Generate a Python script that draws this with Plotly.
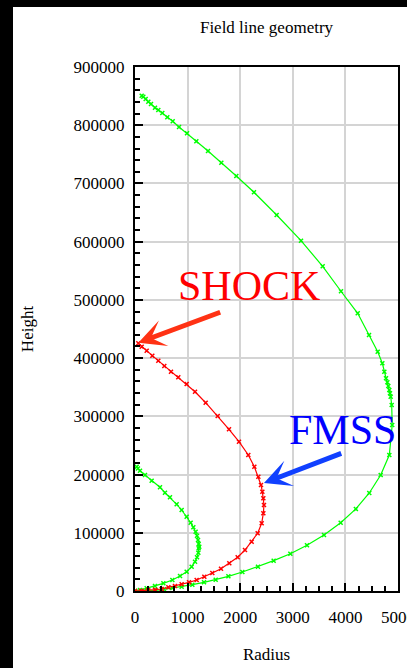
import plotly.graph_objects as go

# ---- data ----
outer_r = [127, 158, 203, 253, 304, 380, 443, 519, 614, 717, 837, 989, 1166, 1388, 1641, 1926, 2262,
           2693, 3156, 3568, 3916, 4234, 4449, 4614, 4702, 4740, 4772, 4798, 4816, 4835, 4848, 4861,
           4880, 4890, 4835, 4671, 4454, 4199, 3910, 3593, 3270, 2953, 2636, 2338, 2041, 1775, 1534,
           1312, 1090, 887, 710, 551, 393, 250, 130, 0]
outer_h = [850700, 849000, 845000, 840400, 836500, 830100, 826200, 821000, 813600, 806800, 797000,
           786200, 772400, 755700, 735700, 712800, 684800, 645800, 601700, 557700, 514800, 477000,
           439700, 411000, 391100, 376700, 365300, 358400, 352100, 345200, 339500, 333700, 319500,
           285000, 233600, 199200, 168300, 141000, 117300, 96200, 78500, 64100, 52100, 41800, 32600,
           25200, 19400, 14900, 10800, 7400, 5200, 2900, 1200, 500, 200, 0]

inner_r = [32, 55, 95, 190, 317, 475, 570, 665, 792, 887, 982, 1058, 1109, 1153, 1179, 1198, 1210,
           1222, 1210, 1204, 1179, 1141, 1077, 982, 856, 710, 539, 380, 222, 95, 0]
inner_h = [213500, 210500, 206600, 199200, 189500, 178100, 168800, 160900, 148900, 139100, 127600,
           117300, 109400, 101900, 95000, 87600, 80700, 76100, 73300, 65800, 57900, 50300, 41800,
           33200, 25800, 18900, 13200, 8600, 4600, 1500, 0]

shock_r = [63, 127, 222, 329, 443, 557, 684, 823, 982, 1141, 1344, 1572, 1787, 1977, 2154, 2269,
           2345, 2395, 2421, 2440, 2452, 2440, 2408, 2332, 2218, 2091, 1952, 1793, 1635, 1470, 1318,
           1172, 1027, 887, 760, 634, 507, 380, 250, 120, 0]
shock_h = [425400, 419600, 412800, 404200, 395600, 386500, 376700, 367000, 355500, 342300, 323400,
           300600, 277700, 256400, 233600, 213500, 196300, 182100, 170600, 159200, 147700, 133400,
           116300, 99100, 84700, 70400, 57900, 47600, 38300, 30900, 24600, 18900, 14900, 11500,
           8600, 6400, 3400, 2200, 1200, 500, 0]

# arrows: (tail, head) in data units
shock_arrow = dict(tail=(1648, 479700), head=(63, 426500))
fmss_arrow = dict(tail=(3949, 237500), head=(2452, 185500))
labels = dict(SHOCK=(2167, 524000), FMSS=(3945, 276500))

GREEN = "#00ff00"
RED = "#ff0000"
FONT = "Liberation Serif"

fig = go.Figure()


def add_curve(xs, ys, color):
    fig.add_trace(go.Scatter(
        x=xs, y=ys, mode="lines+markers",
        line=dict(color=color, width=1.2),
        marker=dict(symbol="x-thin", size=4, color=color, line=dict(color=color, width=1.5)),
        showlegend=False, hoverinfo="skip"))


add_curve(outer_r, outer_h, GREEN)
add_curve(inner_r, inner_h, GREEN)
add_curve(shock_r, shock_h, RED)

W, H = 407, 668
L, R, T, B = 135, 9, 67, 77
pw, ph = W - L - R, H - T - B

# white page region (left and top black strips in reference)
x0p = (13 - L) / pw
y1p = (H - B - 7) / ph

fig.add_shape(type="rect", xref="paper", yref="paper", x0=x0p, x1=1.2, y0=-0.3, y1=y1p,
              fillcolor="white", line=dict(width=0), layer="below")

ann = []
for (tx, ty), (hx, hy), col in [(shock_arrow["tail"], shock_arrow["head"], "#ff3214"),
                                (fmss_arrow["tail"], fmss_arrow["head"], "#1040ff")]:
    ann.append(dict(x=hx, y=hy, ax=tx, ay=ty, xref="x", yref="y", axref="x", ayref="y",
                    text="", showarrow=True, arrowhead=3, arrowwidth=5, arrowsize=0.9,
                    arrowcolor=col, standoff=0))
ann.append(dict(x=labels["SHOCK"][0], y=labels["SHOCK"][1], xref="x", yref="y", text="SHOCK",
                showarrow=False, font=dict(family=FONT, size=42, color="#ff0000")))
ann.append(dict(x=labels["FMSS"][0], y=labels["FMSS"][1], xref="x", yref="y", text="FMSS",
                showarrow=False, font=dict(family=FONT, size=42, color="#0000ff")))

axis_common = dict(
    showline=True, linecolor="black", linewidth=2, mirror=True,
    showgrid=True, gridcolor="#d4d4d4", gridwidth=1.5,
    ticks="inside", ticklen=8, tickwidth=1.5, tickcolor="black",
    tickfont=dict(family=FONT, size=17, color="black"),
    zeroline=False, ticklabeloverflow="allow", automargin=False,
)

fig.update_layout(
    width=W, height=H,
    margin=dict(l=L, r=R, t=T, b=B, autoexpand=False),
    paper_bgcolor="black", plot_bgcolor="white",
    title=dict(text="Field line geometry", x=(L + pw / 2) / W, xanchor="center",
               y=1 - 27 / H, yanchor="middle", yref="container",
               font=dict(family=FONT, size=17, color="black")),
    xaxis=dict(range=[0, 5000], tickvals=[0, 1000, 2000, 3000, 4000, 5000],
               ticklabelstandoff=10,
               minor=dict(dtick=250, ticks="inside", ticklen=5, tickcolor="black", showgrid=False),
               title=dict(text="Radius", font=dict(family=FONT, size=17, color="black"), standoff=22),
               **axis_common),
    yaxis=dict(range=[0, 900000], tickvals=list(range(0, 900001, 100000)),
               tickformat="d", ticklabelstandoff=5,
               minor=dict(dtick=20000, ticks="inside", ticklen=5, tickcolor="black", showgrid=False),
               title=dict(text="Height", font=dict(family=FONT, size=17, color="black"), standoff=36),
               **axis_common),
    annotations=ann,
)

fig.write_html("out.html")
